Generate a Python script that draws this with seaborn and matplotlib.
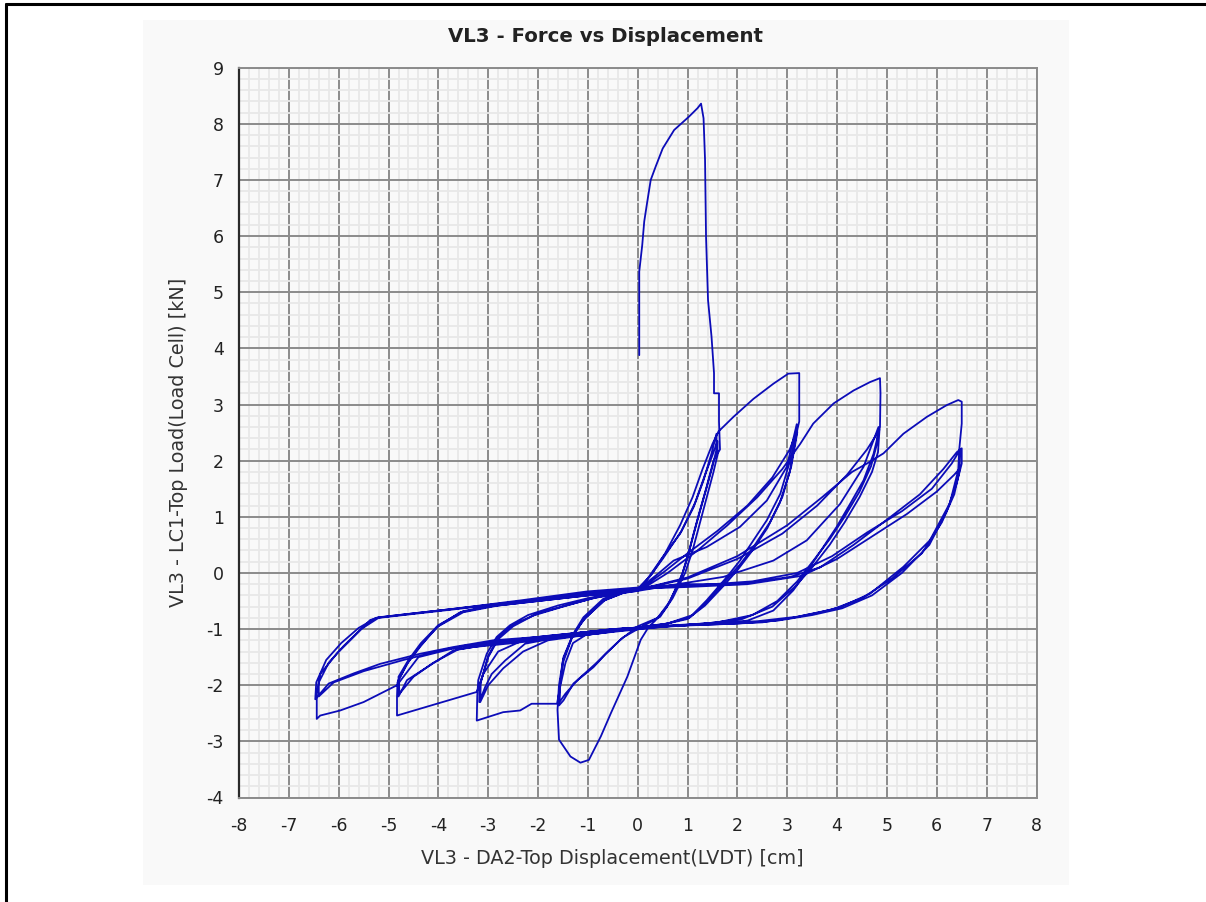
import numpy as np
import pandas as pd
import matplotlib
matplotlib.use("Agg")
import matplotlib.pyplot as plt
from matplotlib.ticker import MultipleLocator
from matplotlib.lines import Line2D
from matplotlib.patches import Rectangle
import seaborn as sns

# ---------------------------------------------------------------------------
# Measured hysteresis trace (displacement cm, load kN), in test order
# ---------------------------------------------------------------------------
virgin_push = [
    (0.03, 3.88), (0.03, 5.37), (0.09, 5.84), (0.13, 6.26), (0.18, 6.55),
    (0.26, 7.00), (0.36, 7.24), (0.50, 7.56), (0.73, 7.89), (1.03, 8.13),
    (1.20, 8.28), (1.27, 8.36), (1.32, 8.10), (1.35, 7.36), (1.37, 5.99),
    (1.41, 4.86), (1.48, 4.21), (1.53, 3.56), (1.53, 3.20), (1.63, 3.20),
    (1.63, 2.70), (1.65, 2.20), (1.52, 2.00), (1.38, 1.53), (1.25, 1.12),
    (1.12, 0.70), (0.98, 0.22), (0.85, -0.13), (0.58, -0.61), (0.35, -0.85),
    (0.22, -0.96), (0.06, -1.19), (-0.21, -1.85), (-0.54, -2.50), (-0.74, -2.91),
    (-0.98, -3.33), (-1.15, -3.38), (-1.35, -3.27), (-1.58, -2.97), (-1.61, -2.44),
]

cycles_16 = [
    (-1.58, -2.00), (-1.49, -1.50), (-1.29, -1.08), (-1.09, -0.79), (-0.69, -0.46),
    (-0.30, -0.33), (0.00, -0.28), (0.20, -0.10), (0.45, 0.22), (0.85, 0.70),
    (1.12, 1.17), (1.32, 1.65), (1.48, 2.13), (1.58, 2.48),
    (1.58, 2.20), (1.50, 1.90), (1.36, 1.45), (1.20, 0.95), (1.05, 0.45),
    (0.90, 0.00), (0.65, -0.50), (0.40, -0.80), (0.00, -0.95), (-0.36, -1.20),
    (-0.65, -1.45), (-0.89, -1.68), (-1.29, -1.97), (-1.49, -2.27), (-1.58, -2.36),
    (-1.57, -2.05), (-1.50, -1.60), (-1.32, -1.15), (-1.10, -0.85), (-0.70, -0.50),
    (-0.30, -0.36), (0.00, -0.30), (0.25, -0.05), (0.50, 0.25), (0.88, 0.75),
    (1.15, 1.25), (1.35, 1.75), (1.50, 2.10), (1.60, 2.35),
    (1.60, 2.10), (1.52, 1.80), (1.40, 1.40), (1.25, 0.90), (1.10, 0.40),
    (0.95, 0.00), (0.70, -0.45), (0.45, -0.78), (0.10, -0.95), (-0.30, -1.15),
    (-0.60, -1.40), (-0.85, -1.62), (-1.20, -1.90), (-1.45, -2.15), (-1.57, -2.30),
    (-1.56, -2.00), (-1.50, -1.55), (-1.30, -1.10), (-1.05, -0.80), (-0.65, -0.48),
    (-0.25, -0.34), (0.05, -0.27), (0.30, 0.00), (0.55, 0.35), (0.85, 0.85),
    (1.10, 1.35), (1.30, 1.85), (1.50, 2.30), (1.62, 2.52),
]

cycles_32 = [
    (1.92, 2.78), (2.32, 3.10), (2.72, 3.37), (3.02, 3.55), (3.24, 3.56),
    (3.24, 2.70), (3.06, 2.01), (2.86, 1.41), (2.59, 0.94), (2.32, 0.58),
    (2.05, 0.22), (1.79, -0.07), (1.38, -0.49), (1.05, -0.79), (0.60, -0.90),
    (0.00, -0.97), (-0.60, -1.02), (-1.00, -1.08), (-1.30, -1.25), (-1.45, -1.60),
    (-1.55, -2.00), (-1.62, -2.33), (-2.13, -2.33), (-2.36, -2.45), (-2.70, -2.48),
    (-3.23, -2.63),
    (-3.22, -2.20), (-3.20, -1.91), (-3.03, -1.44), (-2.83, -1.14), (-2.56, -0.93),
    (-2.20, -0.75), (-1.60, -0.58), (-1.00, -0.45), (-0.50, -0.36), (0.00, -0.30),
    (0.40, -0.02), (0.72, 0.22), (1.38, 0.46), (2.05, 0.82), (2.59, 1.29),
    (2.99, 1.89), (3.19, 2.65),
    (3.20, 2.50), (3.08, 1.90), (2.90, 1.35), (2.65, 0.90), (2.35, 0.50),
    (2.05, 0.15), (1.75, -0.15), (1.40, -0.50), (1.10, -0.75), (0.60, -0.90),
    (0.00, -0.98), (-0.80, -1.08), (-1.60, -1.15), (-2.26, -1.26), (-2.66, -1.56),
    (-2.93, -1.80), (-3.06, -2.03), (-3.18, -2.30),
    (-3.17, -2.00), (-3.00, -1.50), (-2.80, -1.18), (-2.50, -0.95), (-2.10, -0.76),
    (-1.50, -0.60), (-0.90, -0.45), (-0.40, -0.37), (0.00, -0.32), (0.50, 0.00),
    (1.00, 0.35), (1.60, 0.75), (2.20, 1.20), (2.70, 1.70), (3.05, 2.20),
    (3.20, 2.55),
    (3.15, 2.30), (3.05, 1.80), (2.85, 1.25), (2.60, 0.80), (2.30, 0.40),
    (2.00, 0.05), (1.70, -0.25), (1.35, -0.58), (1.00, -0.82), (0.50, -0.92),
    (-0.20, -1.00), (-1.00, -1.10), (-1.80, -1.20), (-2.30, -1.40), (-2.70, -1.70),
    (-3.00, -2.00), (-3.16, -2.30),
    (-3.15, -1.95), (-3.00, -1.48), (-2.80, -1.15), (-2.50, -0.92), (-2.00, -0.72),
    (-1.40, -0.57), (-0.80, -0.43), (-0.30, -0.35), (0.10, -0.28), (0.60, 0.00),
    (1.20, 0.40), (1.80, 0.85), (2.40, 1.35), (2.90, 1.85), (3.26, 2.30),
]

cycles_48 = [
    (3.52, 2.66), (3.93, 3.02), (4.33, 3.25), (4.66, 3.40), (4.86, 3.47),
    (4.87, 3.20), (4.86, 2.60), (4.73, 2.12), (4.53, 1.65), (4.26, 1.23),
    (3.99, 0.82), (3.72, 0.46), (3.46, 0.11), (3.12, -0.31), (2.72, -0.67),
    (2.20, -0.85), (1.50, -0.90), (0.50, -0.95), (-0.50, -1.00), (-1.50, -1.10),
    (-2.30, -1.20), (-2.80, -1.40), (-3.10, -1.80), (-3.23, -2.12), (-4.03, -2.33),
    (-4.83, -2.54),
    (-4.83, -2.20), (-4.82, -1.95), (-4.63, -1.62), (-4.37, -1.32), (-4.03, -0.96),
    (-3.56, -0.70), (-3.00, -0.60), (-2.00, -0.50), (-1.00, -0.40), (0.00, -0.32),
    (0.80, -0.20), (1.72, -0.07), (2.72, 0.22), (3.39, 0.58), (4.06, 1.23),
    (4.53, 1.89), (4.83, 2.60),
    (4.80, 2.30), (4.68, 1.90), (4.45, 1.45), (4.15, 1.00), (3.85, 0.60),
    (3.55, 0.25), (3.20, -0.15), (2.80, -0.50), (2.30, -0.75), (1.60, -0.88),
    (0.60, -0.95), (-0.50, -1.05), (-1.50, -1.15), (-2.50, -1.25), (-3.30, -1.32),
    (-3.70, -1.38), (-4.23, -1.68), (-4.63, -1.91), (-4.80, -2.20),
    (-4.80, -1.90), (-4.60, -1.58), (-4.35, -1.28), (-4.00, -0.95), (-3.50, -0.70),
    (-2.80, -0.58), (-1.80, -0.48), (-0.80, -0.38), (0.00, -0.30), (1.00, -0.10),
    (2.00, 0.25), (2.90, 0.70), (3.60, 1.20), (4.20, 1.75), (4.60, 2.20),
    (4.85, 2.55),
    (4.82, 2.15), (4.70, 1.80), (4.45, 1.35), (4.15, 0.90), (3.85, 0.50),
    (3.50, 0.10), (3.15, -0.25), (2.70, -0.60), (2.10, -0.82), (1.20, -0.92),
    (0.20, -0.98), (-1.00, -1.08), (-2.00, -1.18), (-3.00, -1.28), (-3.60, -1.36),
    (-4.10, -1.60), (-4.50, -1.85), (-4.78, -2.15),
    (-4.80, -1.85), (-4.60, -1.55), (-4.35, -1.25), (-4.00, -0.93), (-3.50, -0.68),
    (-2.80, -0.57), (-1.80, -0.46), (-0.80, -0.37), (0.00, -0.30), (1.00, -0.08),
    (2.00, 0.30), (3.00, 0.85), (3.70, 1.35), (4.30, 1.80), (4.60, 1.95),
]

cycles_65 = [
    (4.93, 2.13), (5.33, 2.48), (5.80, 2.78), (6.20, 2.99), (6.43, 3.08),
    (6.50, 3.05),
    (6.50, 2.66), (6.45, 2.20), (6.43, 1.83), (6.26, 1.24), (5.86, 0.58),
    (5.33, 0.11), (4.66, -0.37), (4.06, -0.61), (3.66, -0.70), (3.10, -0.80),
    (2.50, -0.88), (1.50, -0.92), (0.50, -0.95), (-0.50, -1.00), (-1.50, -1.10),
    (-2.50, -1.20), (-3.50, -1.30), (-4.40, -1.50), (-4.83, -2.00), (-5.50, -2.30),
    (-5.97, -2.45), (-6.37, -2.54), (-6.44, -2.60),
    (-6.44, -2.15), (-6.37, -1.80), (-6.04, -1.44), (-5.70, -1.14), (-5.37, -0.84),
    (-5.20, -0.79), (-3.70, -0.64), (-2.36, -0.49), (-1.02, -0.33), (0.00, -0.26),
    (1.00, -0.20), (2.05, -0.20), (3.06, -0.07), (3.66, 0.10), (4.33, 0.50),
    (5.00, 0.95), (5.66, 1.40), (6.13, 1.85), (6.40, 2.15), (6.50, 2.22),
    (6.50, 1.95), (6.40, 1.60), (6.20, 1.10), (5.85, 0.50), (5.30, 0.00),
    (4.70, -0.40), (4.10, -0.63), (3.50, -0.75), (2.80, -0.85), (2.00, -0.90),
    (1.00, -0.93), (0.00, -0.98), (-1.00, -1.05), (-2.00, -1.14), (-2.90, -1.20),
    (-3.70, -1.32), (-4.37, -1.44), (-5.17, -1.62), (-5.70, -1.79), (-6.20, -1.97),
    (-6.47, -2.25),
    (-6.45, -1.95), (-6.25, -1.55), (-5.95, -1.25), (-5.60, -0.98), (-5.25, -0.80),
    (-4.50, -0.72), (-3.50, -0.62), (-2.30, -0.50), (-1.00, -0.36), (0.00, -0.28),
    (1.20, -0.22), (2.30, -0.15), (3.20, 0.00), (3.90, 0.30), (4.60, 0.72),
    (5.30, 1.10), (5.90, 1.50), (6.30, 1.95), (6.47, 2.20),
    (6.45, 1.80), (6.35, 1.40), (6.10, 0.90), (5.70, 0.35), (5.10, -0.10),
    (4.50, -0.45), (3.90, -0.65), (3.20, -0.78), (2.40, -0.86), (1.40, -0.90),
    (0.30, -0.95), (-0.80, -1.03), (-1.80, -1.12), (-2.80, -1.22), (-3.80, -1.35),
    (-4.70, -1.55), (-5.50, -1.75), (-6.10, -1.95), (-6.40, -2.20),
    (-6.40, -1.95), (-6.20, -1.60), (-5.90, -1.30), (-5.55, -1.00), (-5.20, -0.80),
    (-4.40, -0.72), (-3.20, -0.60), (-2.00, -0.48), (-0.80, -0.35), (0.00, -0.28),
    (1.00, -0.25), (2.20, -0.20), (3.30, -0.05), (4.00, 0.25), (4.70, 0.65),
    (5.40, 1.05), (6.00, 1.45), (6.35, 1.75), (6.45, 1.85),
]

x_ticks = list(range(-8, 9))
y_ticks = list(range(-4, 10))

title_text = "VL3 - Force vs Displacement"
x_label = "VL3 - DA2-Top Displacement(LVDT) [cm]"
y_label = "VL3 - LC1-Top Load(Load Cell) [kN]"

# ---------------------------------------------------------------------------
trace = np.array(virgin_push + cycles_16 + cycles_32 + cycles_48 + cycles_65)
df = pd.DataFrame({"disp": trace[:, 0], "load": trace[:, 1]})

sns.set_style("white")
plt.rcParams["font.family"] = ["DejaVu Sans"]
plt.rcParams["axes.unicode_minus"] = False

W, H = 1206, 902
fig = plt.figure(figsize=(W / 100, H / 100), dpi=100)
fig.patch.set_facecolor("white")


def fx(px):
    return px / W


def fy(py):
    return 1 - py / H


# light chart panel behind everything
panel = Rectangle((fx(143), fy(885)), fx(1069) - fx(143), fy(20) - fy(885),
                  transform=fig.transFigure, facecolor="#f9f9f9",
                  edgecolor="none", zorder=-10)
fig.patches.append(panel)

ax = fig.add_axes([fx(239), fy(797.5), fx(1036.5) - fx(239), fy(67.7) - fy(797.5)])
ax.set_zorder(1)
ax.set_facecolor("#f9f9f9")

sns.lineplot(data=df, x="disp", y="load", sort=False, estimator=None,
             color="#0c0cb8", linewidth=1.3, ax=ax, zorder=3)

ax.set_xlim(x_ticks[0], x_ticks[-1])
ax.set_ylim(y_ticks[0], y_ticks[-1])
ax.set_xticks(x_ticks)
ax.set_yticks(y_ticks)
ax.xaxis.set_minor_locator(MultipleLocator(0.2))
ax.yaxis.set_minor_locator(MultipleLocator(0.2))
ax.set_axisbelow(True)
ax.grid(which="minor", color="#e8e8e8", linewidth=1.3)
ax.grid(which="major", color="#8c8c8c", linewidth=1.4)

ax.set_xlabel("")
ax.set_ylabel("")
for side in ("top", "right", "bottom"):
    ax.spines[side].set_color("#8c8c8c")
    ax.spines[side].set_linewidth(1.4)
ax.spines["left"].set_color("#2a2a2a")
ax.spines["left"].set_linewidth(1.6)

ax.tick_params(axis="both", which="major", direction="out", length=7, width=1.4,
               color="#2a2a2a", labelsize=12.5, labelcolor="#222222")
ax.tick_params(axis="both", which="minor", direction="out", length=4, width=1.4,
               color="#2a2a2a")
ax.tick_params(axis="x", which="major", pad=7)
ax.tick_params(axis="y", which="major", pad=4)

fig.text(fx(606), fy(36), title_text, ha="center", va="center",
         fontsize=14.2, fontweight="bold", color="#222222")
fig.text(fx(612), fy(858), x_label, ha="center", va="center",
         fontsize=13.8, color="#333333")
fig.text(fx(178), fy(442), y_label, ha="center", va="center", rotation=90,
         fontsize=13.8, color="#333333")

# outer frame edges
fig.add_artist(Line2D([fx(6), fx(6)], [0, fy(4)], transform=fig.transFigure,
                      color="black", linewidth=2.2))
fig.add_artist(Line2D([fx(6), 1], [fy(4), fy(4)], transform=fig.transFigure,
                      color="black", linewidth=2.2))

fig.savefig("out.png", dpi=100, facecolor="white")
